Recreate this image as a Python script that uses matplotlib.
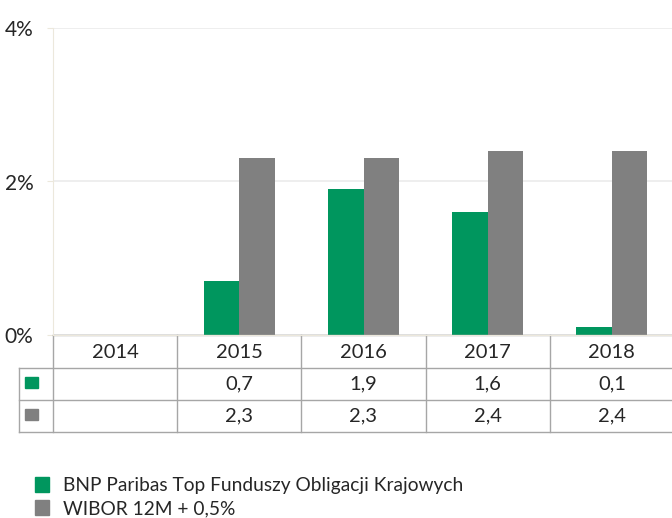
import numpy as np
import matplotlib.pyplot as plt
import matplotlib.transforms as mtransforms
from matplotlib.patches import Patch, Rectangle

plt.rcParams['font.family'] = ['Lato', 'DejaVu Sans']

# data
years = ['2014', '2015', '2016', '2017', '2018']
fund = [np.nan, 0.7, 1.9, 1.6, 0.1]
wibor = [np.nan, 2.3, 2.3, 2.4, 2.4]
fund_lbl = ['', '0,7', '1,9', '1,6', '0,1']
wibor_lbl = ['', '2,3', '2,3', '2,4', '2,4']
series_names = ['BNP Paribas Top Funduszy Obligacji Krajowych', 'WIBOR 12M + 0,5%']

GREEN = '#00965e'
GREY = '#808080'
TXT = '#262626'
LINE = '#a6a6a6'
BEIGE = '#ece8dc'

W, H = 672, 518
fig = plt.figure(figsize=(W / 100, H / 100), dpi=100)

def fy(p):
    return (H - p) / H

def fx(p):
    return p / W

ax = fig.add_axes([fx(53), fy(335), fx(621), fy(28) - fy(335)])
x = np.arange(len(years))
bw = 0.286
ax.bar(x - bw / 2, fund, bw, color=GREEN)
ax.bar(x + bw / 2, wibor, bw, color=GREY)

ax.set_xlim(-0.5, len(years) - 0.5)
ax.set_ylim(0, 4)
ax.set_yticks([0, 2, 4])
ax.set_yticklabels(['0%', '2%', '4%'])
ax.set_xticks([])
ax.tick_params(axis='y', length=4, color=BEIGE, pad=10, labelsize=15, labelcolor=TXT)
ax.yaxis.grid(True, color='#ebebeb', lw=1.2)
ax.set_axisbelow(True)
for s in ['top', 'right']:
    ax.spines[s].set_visible(False)
ax.spines['left'].set_color(BEIGE)
ax.spines['bottom'].set_color(BEIGE)

# data table under the chart
tr = mtransforms.blended_transform_factory(ax.transData, fig.transFigure)
y_rows = [335, 368, 400, 432]
xr = len(years) - 0.5 + 0.02
for i, yp in enumerate(y_rows):
    x0 = -0.5 if i == 0 else -0.5 - 34 / 124.2
    ax.plot([x0, xr], [fy(yp), fy(yp)], color=LINE, lw=1, transform=tr, clip_on=False)
for k in range(len(years) + 1):
    ax.plot([k - 0.5, k - 0.5], [fy(335), fy(432)], color=LINE, lw=1, transform=tr, clip_on=False)
ax.plot([-0.5 - 34 / 124.2] * 2, [fy(368), fy(432)], color=LINE, lw=1, transform=tr, clip_on=False)

for i, yr in enumerate(years):
    ax.text(i, fy(352), yr, ha='center', va='center', fontsize=14.5, color=TXT, transform=tr)
    ax.text(i, fy(384), fund_lbl[i], ha='center', va='center', fontsize=14.5, color=TXT, transform=tr)
    ax.text(i, fy(416), wibor_lbl[i], ha='center', va='center', fontsize=14.5, color=TXT, transform=tr)

for yp, c in [(377, GREEN), (409, GREY)]:
    fig.patches.append(Rectangle((fx(25), fy(yp + 11)), fx(13), fy(yp) - fy(yp + 11),
                                 color=c, transform=fig.transFigure))

handles = [Patch(color=GREEN), Patch(color=GREY)]
fig.legend(handles, series_names, loc='upper left', bbox_to_anchor=(fx(20), fy(462)),
           frameon=False, fontsize=13.8, handlelength=0.7, handleheight=0.8,
           handletextpad=0.75, labelspacing=0.3, labelcolor=TXT, borderpad=0.3)

fig.savefig('out.png', dpi=100)
